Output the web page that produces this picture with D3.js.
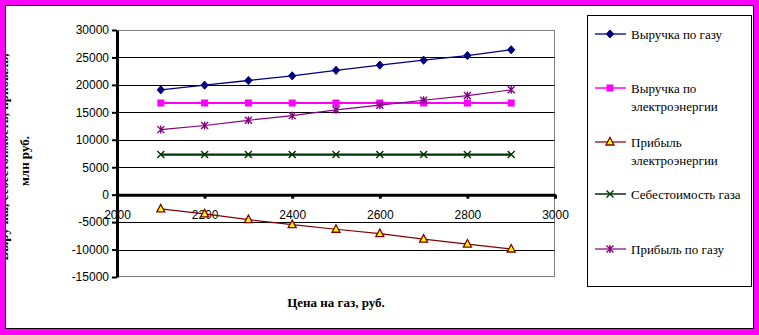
<!DOCTYPE html>
<html>
<head>
<meta charset="utf-8">
<script src="https://cdn.jsdelivr.net/npm/d3@7"></script>
<style>
  html, body { margin: 0; padding: 0; background: #fff; }
  svg { display: block; }
</style>
</head>
<body>
<svg id="chart" width="759" height="335"></svg>
<script>
// Gas price, rubles
const prices = [2100, 2200, 2300, 2400, 2500, 2600, 2700, 2800, 2900];
const xTicks = [2000, 2200, 2400, 2600, 2800, 3000];
const yTicks = [-15000, -10000, -5000, 0, 5000, 10000, 15000, 20000, 25000, 30000];

// Series values, million rubles
const gasRevenue  = [19100, 19950, 20800, 21650, 22650, 23600, 24500, 25350, 26400];
const elecRevenue = [16700, 16700, 16700, 16700, 16700, 16700, 16700, 16700, 16700];
const elecProfit  = [-2600, -3500, -4550, -5450, -6300, -7100, -8100, -9000, -9900];
const gasCost     = [7300, 7300, 7300, 7300, 7300, 7300, 7300, 7300, 7300];
const gasProfit   = [11850, 12600, 13550, 14400, 15450, 16300, 17200, 18050, 19100];

const seriesNames = [
  ["Выручка по газу"],
  ["Выручка по", "электроэнергии"],
  ["Прибыль", "электроэнергии"],
  ["Себестоимость газа"],
  ["Прибыль по газу"]
];

const series = [
  { name: seriesNames[0], values: gasRevenue,  color: "#000080", width: 1.3, marker: "diamond" },
  { name: seriesNames[1], values: elecRevenue, color: "#ff00ff", width: 2.2, marker: "square" },
  { name: seriesNames[2], values: elecProfit,  color: "#800000", width: 1.2, marker: "triangle" },
  { name: seriesNames[3], values: gasCost,     color: "#003300", width: 2.2, marker: "cross" },
  { name: seriesNames[4], values: gasProfit,   color: "#800080", width: 1.2, marker: "star" }
];

const SERIF = "'Liberation Serif', 'Times New Roman', serif";
const SANS = "'Liberation Sans', Arial, sans-serif";

const svg = d3.select("#chart");
const W = 759, H = 335;

// Frame
svg.append("rect").attr("x", 0).attr("y", 0).attr("width", W).attr("height", H).attr("fill", "#ff00ff");
svg.append("rect").attr("x", 5.5).attr("y", 5.5).attr("width", 748).attr("height", 323)
  .attr("fill", "#fff").attr("stroke", "#000").attr("stroke-width", 1);

const plot = { left: 117, right: 555, top: 30, bottom: 277 };
const x = d3.scaleLinear().domain([2000, 3000]).range([plot.left, plot.right]);
const y = d3.scaleLinear().domain([-15000, 30000]).range([plot.bottom, plot.top]);

// Plot area border
svg.append("rect")
  .attr("x", plot.left).attr("y", plot.top + 0.5)
  .attr("width", plot.right - plot.left - 0.5).attr("height", plot.bottom - plot.top - 1)
  .attr("fill", "none").attr("stroke", "#808080").attr("stroke-width", 1);

// Horizontal gridlines
svg.append("g").selectAll("line")
  .data(yTicks.filter(d => d !== 0 && d !== 30000 && d !== -15000))
  .join("line")
  .attr("x1", plot.left).attr("x2", plot.right - 0.5)
  .attr("y1", d => Math.round(y(d)) + 0.5).attr("y2", d => Math.round(y(d)) + 0.5)
  .attr("stroke", "#000").attr("stroke-width", 1);

// Y axis
const yAxis = svg.append("g")
  .attr("transform", `translate(${plot.left},0)`)
  .call(d3.axisLeft(y).tickValues(yTicks).tickSize(5).tickSizeOuter(0).tickPadding(3)
    .tickFormat(d => String(d)));
yAxis.select(".domain").attr("stroke", "#000").attr("stroke-width", 3);
yAxis.selectAll(".tick line").attr("stroke", "#000").attr("stroke-width", 2);
yAxis.selectAll(".tick text")
  .attr("font-family", SANS).attr("font-size", 12).attr("fill", "#000");

// X axis crossing at zero
const xAxis = svg.append("g")
  .attr("transform", `translate(0,${y(0)})`)
  .call(d3.axisBottom(x).tickValues(xTicks).tickSize(4).tickSizeOuter(0).tickPadding(12)
    .tickFormat(d => String(d)));
xAxis.select(".domain").attr("stroke", "#000").attr("stroke-width", 3);
xAxis.selectAll(".tick line").attr("stroke", "#000").attr("stroke-width", 3);
xAxis.selectAll(".tick text")
  .attr("font-family", SANS).attr("font-size", 12).attr("fill", "#000");

// Marker shapes
function drawMarker(g, type, cx, cy, color) {
  const s = 3.6;
  if (type === "diamond") {
    g.append("path").attr("d", `M${cx},${cy - s - 0.5}L${cx + s},${cy}L${cx},${cy + s + 0.5}L${cx - s},${cy}Z`)
      .attr("fill", color).attr("stroke", color).attr("stroke-width", 1);
  } else if (type === "square") {
    g.append("rect").attr("x", cx - 3.5).attr("y", cy - 3.5).attr("width", 7).attr("height", 7)
      .attr("fill", color);
  } else if (type === "triangle") {
    g.append("path").attr("d", `M${cx},${cy - 4.5}L${cx + 4},${cy + 3}L${cx - 4},${cy + 3}Z`)
      .attr("fill", "#ffff00").attr("stroke", color).attr("stroke-width", 1.3);
  } else if (type === "cross") {
    g.append("path").attr("d", `M${cx - 3.5},${cy - 3.5}L${cx + 3.5},${cy + 3.5}M${cx + 3.5},${cy - 3.5}L${cx - 3.5},${cy + 3.5}`)
      .attr("stroke", color).attr("stroke-width", 1.4).attr("fill", "none");
  } else if (type === "star") {
    g.append("path").attr("d",
      `M${cx - 3.5},${cy - 3.5}L${cx + 3.5},${cy + 3.5}M${cx + 3.5},${cy - 3.5}L${cx - 3.5},${cy + 3.5}` +
      `M${cx},${cy - 4}L${cx},${cy + 4}`)
      .attr("stroke", color).attr("stroke-width", 1.4).attr("fill", "none");
  }
}

const line = d3.line().x(d => x(d[0])).y(d => y(d[1]));
series.forEach(s => {
  const pts = prices.map((p, i) => [p, s.values[i]]);
  const g = svg.append("g");
  g.append("path").attr("d", line(pts)).attr("fill", "none")
    .attr("stroke", s.color).attr("stroke-width", s.width);
  pts.forEach(p => drawMarker(g, s.marker, x(p[0]), y(p[1]), s.color));
});

// Axis titles
svg.append("text")
  .attr("x", 336).attr("y", 307)
  .attr("text-anchor", "middle")
  .attr("font-family", SERIF)
  .attr("font-size", 13).attr("font-weight", "bold")
  .text("Цена на газ, руб.");

svg.append("clipPath").attr("id", "frameClip")
  .append("rect").attr("x", 6).attr("y", 6).attr("width", 747).attr("height", 322);

// Two-line vertical title; the first line runs past the frame edge and is clipped by it
const yTitle = svg.append("g").attr("clip-path", "url(#frameClip)")
  .attr("font-family", SERIF)
  .attr("font-size", 13).attr("font-weight", "bold").attr("text-anchor", "middle");
yTitle.append("text")
  .attr("transform", "translate(8,157) rotate(-90)")
  .text("Выручка, себестоимость, прибыль,");
yTitle.append("text")
  .attr("transform", "translate(29,161) rotate(-90)")
  .text("млн руб.");

// Legend
const legend = svg.append("g");
legend.append("rect").attr("x", 587.5).attr("y", 15.5).attr("width", 164).attr("height", 271)
  .attr("fill", "#fff").attr("stroke", "#000").attr("stroke-width", 1);
const legendY = [34, 88, 142, 194, 249];
series.forEach((s, i) => {
  const cy = legendY[i];
  legend.append("line").attr("x1", 595).attr("x2", 626).attr("y1", cy).attr("y2", cy)
    .attr("stroke", s.color).attr("stroke-width", Math.min(s.width, 1.5));
  drawMarker(legend, s.marker, 610, cy, s.color);
  const t = legend.append("text")
    .attr("font-family", SERIF)
    .attr("font-size", 13).attr("fill", "#000");
  s.name.forEach((ln, j) => {
    t.append("tspan").attr("x", 631).attr("y", cy + 4.5 + j * 18).text(ln);
  });
});
</script>
</body>
</html>
